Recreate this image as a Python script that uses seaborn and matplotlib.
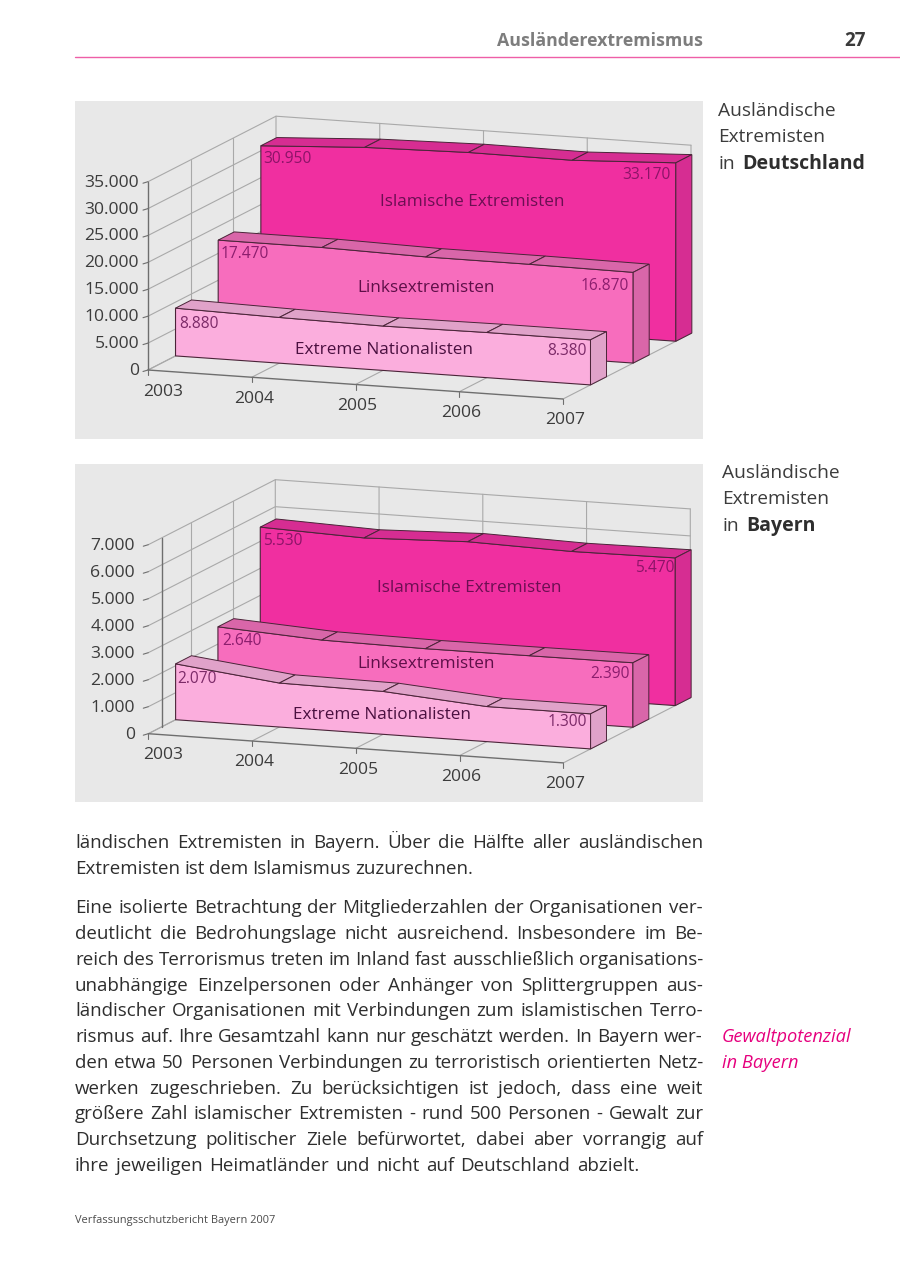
import matplotlib
matplotlib.use("Agg")
import matplotlib.pyplot as plt
import seaborn as sns

# values
years = ["2003", "2004", "2005", "2006", "2007"]
series_names = ["Islamische Extremisten", "Linksextremisten", "Extreme Nationalisten"]

de_islam = [30950, 32000, 32400, 32300, 33170]
de_links = [17470, 17450, 17050, 17020, 16870]
de_nat = [8880, 8500, 8250, 8400, 8380]
de_ticks = [0, 5000, 10000, 15000, 20000, 25000, 30000, 35000]

by_islam = [5530, 5400, 5530, 5440, 5470]
by_links = [2640, 2420, 2370, 2380, 2390]
by_nat = [2070, 1630, 1590, 1300, 1300]
by_ticks = [0, 1000, 2000, 3000, 4000, 5000, 6000, 7000]

front_colors = ["#f02fa0", "#f76dbd", "#fbaedd"]
shade_colors = ["#d62d92", "#d966a9", "#e0a2c9"]
label_colors = ["#8c1468", "#8c1e6e", "#7c2a68"]
name_colors = ["#6b0f52", "#5e0f48", "#4a1040"]
edge = "#4a2438"
grid_col = "#a9a9a9"
axis_col = "#6e6e6e"
text_col = "#3c3c3c"
pink = "#e6007e"

# text, y, right edge of the line
body_lines = [
    ("ländischen Extremisten in Bayern. Über die Hälfte aller ausländischen", 843, 703),
    ("Extremisten ist dem Islamismus zuzurechnen.", 869, 473),
    ("Eine isolierte Betrachtung der Mitgliederzahlen der Organisationen ver-", 908, 703),
    ("deutlicht die Bedrohungslage nicht ausreichend. Insbesondere im Be-", 934, 703),
    ("reich des Terrorismus treten im Inland fast ausschließlich organisations-", 960, 703),
    ("unabhängige Einzelpersonen oder Anhänger von Splittergruppen aus-", 986, 703),
    ("ländischer Organisationen mit Verbindungen zum islamistischen Terro-", 1011, 703),
    ("rismus auf. Ihre Gesamtzahl kann nur geschätzt werden. In Bayern wer-", 1037, 703),
    ("den etwa 50 Personen Verbindungen zu terroristisch orientierten Netz-", 1063, 703),
    ("werken zugeschrieben. Zu berücksichtigen ist jedoch, dass eine weit", 1089, 703),
    ("größere Zahl islamischer Extremisten - rund 500 Personen - Gewalt zur", 1114, 703),
    ("Durchsetzung politischer Ziele befürwortet, dabei aber vorrangig auf", 1140, 703),
    ("ihre jeweiligen Heimatländer und nicht auf Deutschland abzielt.", 1166, 639),
]

sns.set_theme(style="white")
plt.rcParams["font.family"] = ["Open Sans", "DejaVu Sans"]

fig = plt.figure(figsize=(9, 12.72), dpi=100)
ax = fig.add_axes([0, 0, 1, 1])
ax.set_xlim(0, 900)
ax.set_ylim(1272, 0)
ax.axis("off")


def px(size):
    return size * 0.72


def line(xs, ys, color, lw=0.8, z=2):
    sns.lineplot(x=xs, y=ys, ax=ax, color=color, lw=lw, sort=False,
                 estimator=None, errorbar=None, legend=False, zorder=z)


def draw_chart(top, origin, depth_vec, step, unit, values, ticks, name_pos, val_pos,
               axis_depth=0.0, tick_label_x=139):
    ox, oy = origin

    def proj(i, d, v):
        return (ox + step[0] * i + depth_vec[0] * d,
                oy + step[1] * i + depth_vec[1] * d - v * unit)

    ax.fill([75, 703, 703, 75], [top, top, top + 338, top + 338], color="#e8e8e8", lw=0, zorder=1)
    n = len(years) - 1
    vmax = ticks[-1]

    # walls and floor grid
    for v in ticks:
        a, b, c = proj(0, 0, v), proj(0, 1, v), proj(n, 1, v)
        line([a[0], b[0], c[0]], [a[1], b[1], c[1]], grid_col)
        line([a[0] - 5, a[0]], [a[1] + 1.5, a[1]], axis_col)
        ax.text(tick_label_x, a[1] + 1, f"{v:,}".replace(",", "."), ha="right", va="center",
                fontsize=px(17.5), color=text_col, zorder=6)
    for i in range(n + 1):
        a, b, c = proj(i, 0, 0), proj(i, 1, 0), proj(i, 1, vmax)
        line([a[0], b[0], c[0]], [a[1], b[1], c[1]], grid_col)
        line([a[0], a[0]], [a[1], a[1] + 5], axis_col)
        shift = 15 if i == 0 else 2
        ax.text(a[0] + shift, a[1] + 21.5, years[i], ha="center", va="center",
                fontsize=px(17.5), color=text_col, zorder=6)
    for d in (1 / 3, 2 / 3):
        a, b = proj(0, d, 0), proj(0, d, vmax)
        line([a[0], b[0]], [a[1], b[1]], grid_col)
    a, b = proj(0, axis_depth, 0), proj(0, axis_depth, vmax)
    line([a[0], b[0]], [a[1], b[1]], axis_col, lw=1.0, z=3)
    a, b = proj(0, 0, 0), proj(n, 0, 0)
    line([a[0], b[0]], [a[1], b[1]], axis_col, lw=1.0, z=3)

    # ribbons, back row first
    for k in (0, 1, 2):
        vals = values[k]
        d0 = 2 / 3 - k / 3 + 0.215
        d1 = d0 + 0.125
        z = 4 + (k + 1) * 0.1
        fx, fy = zip(*[proj(i, d0, v) for i, v in enumerate(vals)])
        bx, by = zip(*[proj(i, d1, v) for i, v in enumerate(vals)])
        ground0, ground1 = [proj(i, d0, 0) for i in (0, n)], proj(n, d1, 0)

        ax.fill(list(fx) + [ground0[1][0], ground0[0][0]],
                list(fy) + [ground0[1][1], ground0[0][1]],
                facecolor=front_colors[k], edgecolor=edge, lw=0.8, zorder=z)
        for i in range(n):
            ax.fill([fx[i], fx[i + 1], bx[i + 1], bx[i]], [fy[i], fy[i + 1], by[i + 1], by[i]],
                    facecolor=shade_colors[k], edgecolor=edge, lw=0.7, zorder=z)
        ax.fill([fx[n], bx[n], ground1[0], ground0[1][0]],
                [fy[n], by[n], ground1[1], ground0[1][1]],
                facecolor=shade_colors[k], edgecolor=edge, lw=0.7, zorder=z)

        ax.text(name_pos[k][0], name_pos[k][1], series_names[k], ha="center", va="center",
                fontsize=px(17.1), color=name_colors[k], zorder=z + 0.05)
        lab = val_pos[k]
        ax.text(lab[0], lab[1], f"{vals[0]:,}".replace(",", "."), ha="left", va="center",
                fontsize=px(15.5), color=label_colors[k], zorder=z + 0.05)
        ax.text(lab[2], lab[3], f"{vals[-1]:,}".replace(",", "."), ha="right", va="center",
                fontsize=px(15.5), color=label_colors[k], zorder=z + 0.05)


draw_chart(101, (148, 370), (128, -65.5), (103.75, 7.25), 26.9 / 5000,
           [de_islam, de_links, de_nat], de_ticks,
           [(472, 202), (426, 288), (384, 350)],
           [(263, 159, 671, 175), (221, 254, 629, 286), (179, 324, 587, 351)])

draw_chart(464, (148.3, 733.7), (127, -65), (103.75, 7.3), 27 / 1000,
           [by_islam, by_links, by_nat], by_ticks,
           [(469, 588), (426, 664), (382, 715)],
           [(263, 541, 675, 568), (222, 641, 630, 674), (177, 679, 587, 722)],
           axis_depth=0.108, tick_label_x=135)

# page furniture
line([75, 900], [56.5, 56.5], "#ee5fa7", lw=1.0)
ax.text(703, 41, "Ausländerextremismus", ha="right", va="center", fontsize=px(17.8),
        fontweight="bold", color="#7d7d7d")
ax.text(866, 41, "27", ha="right", va="center", fontsize=px(18.8), fontweight="bold", color="#3a3a3a")


def caption(x, ys, place):
    ax.text(x, ys[0], "Ausländische", va="center", fontsize=px(19.2), color=text_col)
    ax.text(x, ys[1], "Extremisten", va="center", fontsize=px(19.2), color=text_col)
    ax.text(x, ys[2], "in", va="center", fontsize=px(19.2), color=text_col)
    ax.text(x + 24, ys[2], place, va="center", fontsize=px(19.5), fontweight="bold", color="#2e2e2e")


caption(718, (111, 137, 164), "Deutschland")
caption(722, (473, 499, 526), "Bayern")

ax.text(722, 1037, "Gewaltpotenzial", va="center", fontsize=px(18.3), style="italic", color=pink)
ax.text(722, 1063, "in Bayern", va="center", fontsize=px(18.3), style="italic", color=pink)
ax.text(75, 1221, "Verfassungsschutzbericht Bayern 2007", va="center", fontsize=px(11.05), color="#4a4a4a")

renderer = fig.canvas.get_renderer()
for text, y, right in body_lines:
    words = text.split(" ")
    pieces = [ax.text(0, y, w, va="center", fontsize=px(18.8), color="#2e2e2e") for w in words]
    widths = [p.get_window_extent(renderer).width for p in pieces]
    gap = (right - 75 - sum(widths)) / (len(words) - 1)
    x = 75
    for p, w in zip(pieces, widths):
        p.set_x(x)
        x += w + gap

fig.savefig("out.png", dpi=100)
